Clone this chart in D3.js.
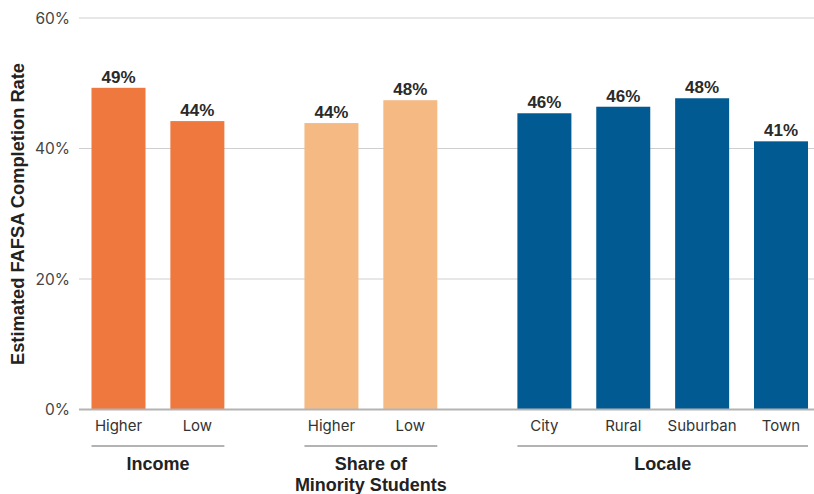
<!DOCTYPE html>
<html>
<head>
<meta charset="utf-8">
<script src="https://cdn.jsdelivr.net/npm/d3@7"></script>
<style>
  html, body { margin: 0; padding: 0; background: #fff; }
  svg { display: block; font-family: Inter, "Liberation Sans", Arial, sans-serif; }
  .bold { font-family: "Liberation Sans", Arial, Helvetica, sans-serif; font-weight: 700; }
</style>
</head>
<body>
<svg id="chart" width="814" height="494"></svg>
<script>
// ---- data ----
const categories = ["Higher", "Low", "Higher", "Low", "City", "Rural", "Suburban", "Town"];
const groups = ["Income", "Income", "Share", "Share", "Locale", "Locale", "Locale", "Locale"];
const values = [49.3, 44.2, 43.9, 47.4, 45.4, 46.4, 47.7, 41.1];
const valueLabels = ["49%", "44%", "44%", "48%", "46%", "46%", "48%", "41%"];
const groupNames = ["Income", "Share", "Locale"];
const groupLabels = [["Income"], ["Share of", "Minority Students"], ["Locale"]];
const groupColors = ["#EE783E", "#F5BA84", "#025A92"];
const yTicks = [0, 20, 40, 60];
const yTitle = "Estimated FAFSA Completion Rate";

// ---- layout ----
const svg = d3.select("#chart");
const plotLeft = 79, plotRight = 814;
const y = d3.scaleLinear().domain([0, 60]).range([409.5, 18]);

const groupGap = 0.7;
const slots = categories.map((c, i) => i + groupNames.indexOf(groups[i]) * groupGap);
const x = d3.scaleLinear().domain([0, d3.max(slots)]).range([118.5, 781]);
const barW = 54;
const color = d3.scaleOrdinal().domain(groupNames).range(groupColors);

// y axis tick labels
const yAxis = d3.axisLeft(y).tickValues(yTicks).tickFormat(d => d + "%").tickSize(0).tickPadding(9);
const gAxis = svg.append("g").attr("transform", `translate(${plotLeft},0)`).call(yAxis);
gAxis.select(".domain").remove();
gAxis.selectAll("text")
  .attr("font-size", 15.5).attr("fill", "#444").attr("font-family", "Inter, 'Liberation Sans', Arial, sans-serif")
  .attr("dy", "0.35em");

// gridlines
svg.append("g").selectAll("line").data(yTicks.filter(d => d !== 0)).join("line")
  .attr("x1", plotLeft).attr("x2", plotRight)
  .attr("y1", d => y(d)).attr("y2", d => y(d))
  .attr("stroke", "#cfcfcf").attr("stroke-width", 1.2);

// bars
svg.append("g").selectAll("rect").data(values).join("rect")
  .attr("x", (d, i) => x(slots[i]) - barW / 2)
  .attr("width", barW)
  .attr("y", d => y(d))
  .attr("height", d => y(0) - y(d))
  .attr("fill", (d, i) => color(groups[i]));

// baseline
svg.append("line")
  .attr("x1", plotLeft).attr("x2", plotRight)
  .attr("y1", y(0)).attr("y2", y(0))
  .attr("stroke", "#b3b3b3").attr("stroke-width", 2);

// value labels
svg.append("g").selectAll("text").data(values).join("text")
  .attr("class", "bold")
  .attr("x", (d, i) => x(slots[i]))
  .attr("y", d => y(d) - 5)
  .attr("text-anchor", "middle")
  .attr("font-size", 17).attr("fill", "#2a2a2a")
  .text((d, i) => valueLabels[i]);

// category labels
svg.append("g").selectAll("text").data(categories).join("text")
  .attr("x", (d, i) => x(slots[i]))
  .attr("y", 431)
  .attr("text-anchor", "middle")
  .attr("font-size", 15).attr("fill", "#333")
  .text(d => d);

// group lines and labels
groupNames.forEach((g, gi) => {
  const idx = categories.map((c, i) => i).filter(i => groups[i] === g);
  const x0 = x(slots[idx[0]]) - barW / 2;
  const x1 = x(slots[idx[idx.length - 1]]) + barW / 2;
  svg.append("line")
    .attr("x1", x0).attr("x2", x1).attr("y1", 446).attr("y2", 446)
    .attr("stroke", "#b3b3b3").attr("stroke-width", 2);
  const t = svg.append("text")
    .attr("class", "bold")
    .attr("x", (x0 + x1) / 2).attr("y", 470)
    .attr("text-anchor", "middle")
    .attr("font-size", 18).attr("fill", "#222");
  groupLabels[gi].forEach((line, li) => {
    t.append("tspan").attr("x", (x0 + x1) / 2).attr("dy", li === 0 ? 0 : 20.5).text(line);
  });
});

// y title
svg.append("text")
  .attr("class", "bold")
  .attr("transform", `translate(23.5,214) rotate(-90)`)
  .attr("text-anchor", "middle")
  .attr("font-size", 18.3).attr("fill", "#222")
  .text(yTitle);
</script>
</body>
</html>
